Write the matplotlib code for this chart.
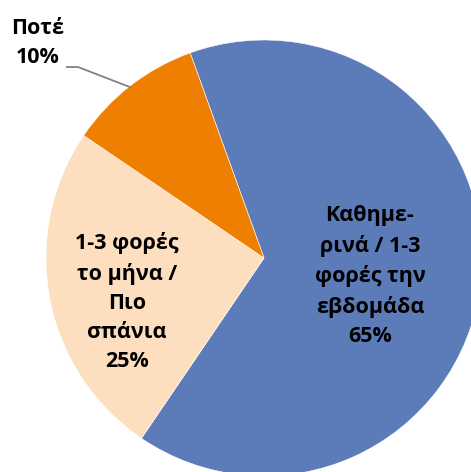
import matplotlib
matplotlib.use("Agg")
import matplotlib.pyplot as plt

plt.rcParams['font.family'] = ['Open Sans', 'DejaVu Sans']

# data
categories = ["Καθημε-\nρινά / 1-3\nφορές την\nεβδομάδα", "1-3 φορές\nτο μήνα /\nΠιο\nσπάνια", "Ποτέ"]
values = [65, 25, 10]
colors = ["#5B7BB9", "#FDDFBF", "#EE7F01"]

fig = plt.figure(figsize=(4.71, 4.72), dpi=100)
ax = fig.add_axes([0, 0, 1, 1])

wedges, _ = ax.pie(values, colors=colors, startangle=109.8, counterclock=False,
                   radius=1, center=(0, 0),
                   wedgeprops=dict(edgecolor="white", linewidth=0.4))

# pixel-matched view: centre at (264, 258), radius 218 px
ax.set_xlim(-264 / 218, (471 - 264) / 218)
ax.set_ylim(-(472 - 258) / 218, 258 / 218)
ax.set_aspect("auto")
ax.axis("off")

txt = dict(ha="center", va="center", fontsize=15.5, fontweight="bold",
           linespacing=1.5, color="black")

ax.text(0.486, -0.082, f"{categories[0]}\n{values[0]}%", **txt)
ax.text(-0.628, -0.202, f"{categories[1]}\n{values[1]}%", **txt)
ax.text(-1.037, 0.985, f"{categories[2]}\n{values[2]}%", **txt)

# leader line for the small slice
ax.plot([-0.904, -0.853, -0.615], [0.876, 0.876, 0.784], color="#808080", lw=1.3)

fig.savefig("out.png", dpi=100)
